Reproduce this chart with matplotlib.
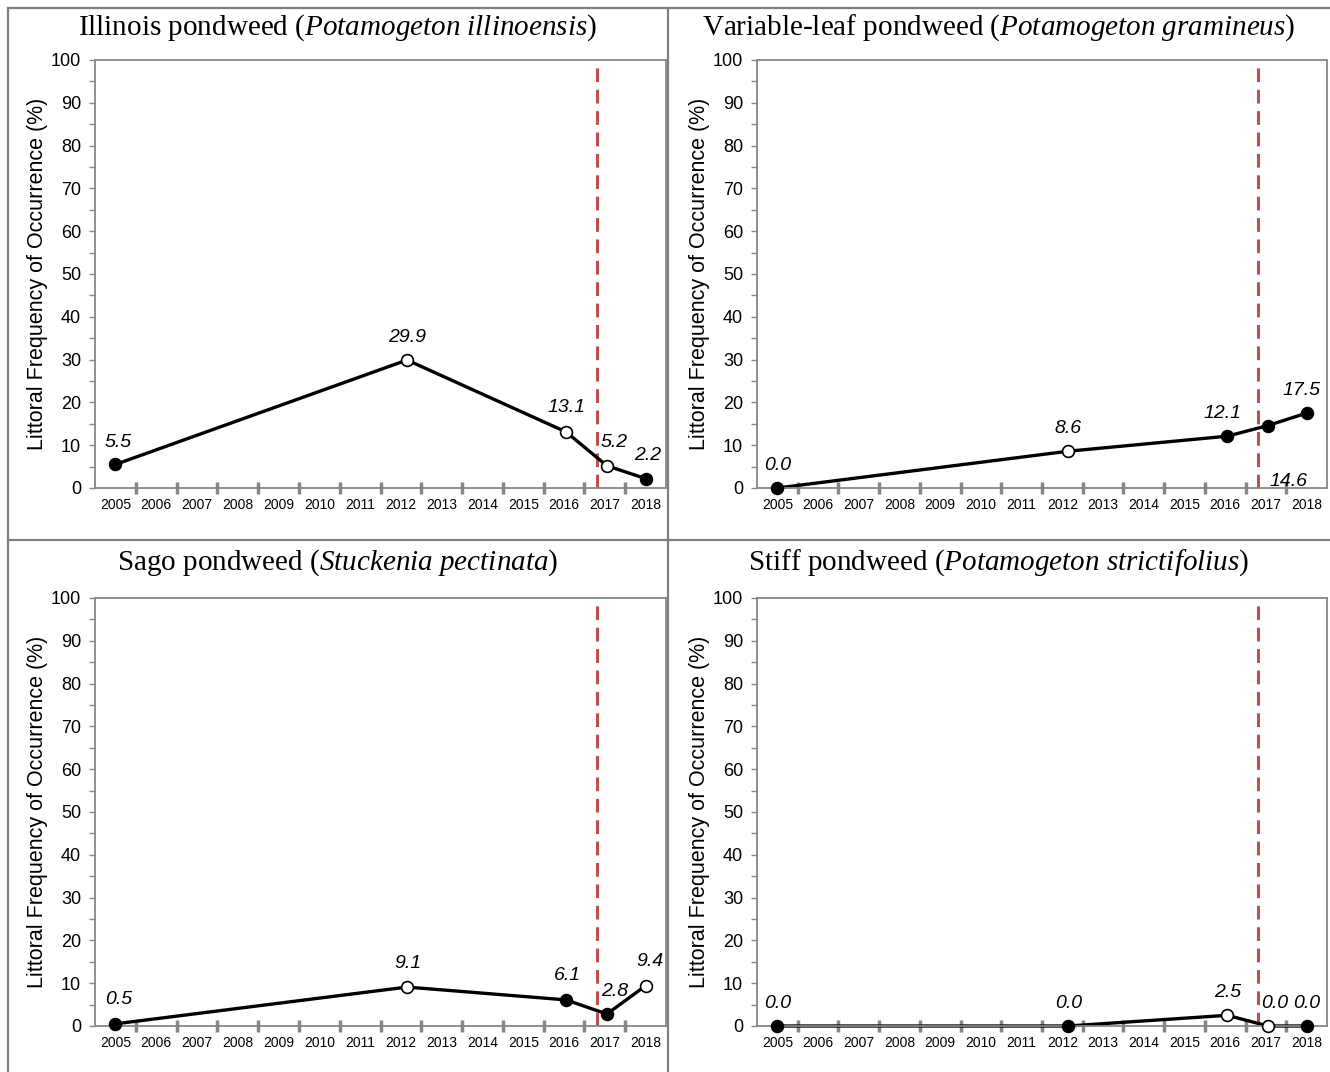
import matplotlib
matplotlib.use("Agg")
import matplotlib.pyplot as plt
from matplotlib.lines import Line2D
import numpy as np

plt.rcParams['font.family'] = ['Liberation Sans', 'DejaVu Sans']
plt.rcParams['mathtext.fontset'] = 'custom'
plt.rcParams['mathtext.rm'] = 'Liberation Serif'
plt.rcParams['mathtext.it'] = 'Liberation Serif:italic'

# survey timing (fractional year) and axis categories
survey_x = [2005.0, 2012.15, 2016.05, 2017.05, 2018.0]
year_labels = list(range(2005, 2019))
treatment_x = 2016.8

# species data
titles = [("Illinois pondweed", "Potamogeton illinoensis"),
          ("Variable-leaf pondweed", "Potamogeton gramineus"),
          ("Sago pondweed", "Stuckenia pectinata"),
          ("Stiff pondweed", "Potamogeton strictifolius")]
illinois = [5.5, 29.9, 13.1, 5.2, 2.2]
variable = [0.0, 8.6, 12.1, 14.6, 17.5]
sago = [0.5, 9.1, 6.1, 2.8, 9.4]
stiff = [0.0, 0.0, 2.5, 0.0, 0.0]
values = [illinois, variable, sago, stiff]
# filled marker = True, open marker = False
illinois_fill = [True, False, False, False, True]
variable_fill = [True, False, True, True, True]
sago_fill = [True, False, True, True, False]
stiff_fill = [True, True, False, False, True]
fills = [illinois_fill, variable_fill, sago_fill, stiff_fill]

# label offsets in pixels (layout only)
offsets = [
    [(3, 22), (0, 23), (0, 24), (7, 23), (2, 23)],
    [(0, 23), (0, 23), (-5, 23), (21, -56), (-5, 23)],
    [(3, 24), (1, 24), (1, 24), (8, 23), (4, 24)],
    [(0, 23), (0, 23), (0, 23), (7, 23), (0, 23)],
]

W, H = 1330, 1072
fig = plt.figure(figsize=(W / 100, H / 100), dpi=100)

gray = '#868686'
# axes rectangles in pixels: left, top, right, bottom
rects = [(95, 60, 666, 488), (757, 60, 1327, 488),
         (95, 598, 666, 1026), (757, 598, 1327, 1026)]
title_pos = [(338, 28), (999, 28), (338, 563), (999, 563)]

for i in range(4):
    l, t, r, b = rects[i]
    ax = fig.add_axes([l / W, 1 - b / H, (r - l) / W, (b - t) / H])
    ax.set_xlim(2004.5, 2018.5)
    ax.set_ylim(0, 100)

    ax.axvline(treatment_x, color='#C0504D', lw=2.2, ls=(0, (4.5, 2.5)), zorder=1)
    ax.plot(survey_x, values[i], color='black', lw=2.4, zorder=2, clip_on=False)
    for x, y, f in zip(survey_x, values[i], fills[i]):
        ax.plot(x, y, 'o', ms=8.5, mec='black', mew=1.2,
                mfc='black' if f else 'white', zorder=3, clip_on=False)
    for x, y, (dx, dy) in zip(survey_x, values[i], offsets[i]):
        ax.annotate(f"{y:.1f}", (x, y), xytext=(dx, dy), textcoords='offset pixels',
                    ha='center', va='center', fontsize=14, style='italic')

    for s in ax.spines.values():
        s.set_color(gray)
        s.set_linewidth(1.3)

    ax.set_yticks(np.arange(0, 101, 10))
    ax.set_yticks(np.arange(5, 100, 10), minor=True)
    ax.tick_params(axis='y', which='both', length=4, width=1, color=gray,
                   labelsize=13, pad=6)

    ax.set_xticks(year_labels)
    ax.set_xticklabels([str(y) for y in year_labels])
    ax.set_xticks(np.arange(2005.5, 2018, 1), minor=True)
    ax.tick_params(axis='x', which='major', length=0, labelsize=10, pad=7)
    ax.tick_params(axis='x', which='minor', length=8, width=2.5, color=gray,
                   direction='inout')

    ax.set_ylabel("Littoral Frequency of Occurrence (%)", fontsize=15.5, labelpad=2)

    common, sci = titles[i]
    sci_tex = sci.replace(' ', r'\ ')
    fig.text(title_pos[i][0] / W, 1 - title_pos[i][1] / H,
             common + " (" + r"$\mathit{" + sci_tex + "}$" + ")",
             ha='center', va='center', fontsize=21, family='Liberation Serif')

# panel borders
border = dict(color='#7f7f7f', lw=1.6)
fig.add_artist(Line2D([8 / W, 1], [1 - 8 / H, 1 - 8 / H], **border))
fig.add_artist(Line2D([8 / W, 8 / W], [0, 1 - 8 / H], **border))
fig.add_artist(Line2D([668 / W, 668 / W], [0, 1 - 8 / H], **border))
fig.add_artist(Line2D([8 / W, 1], [1 - 540 / H, 1 - 540 / H], **border))

fig.savefig("out.png", dpi=100)
